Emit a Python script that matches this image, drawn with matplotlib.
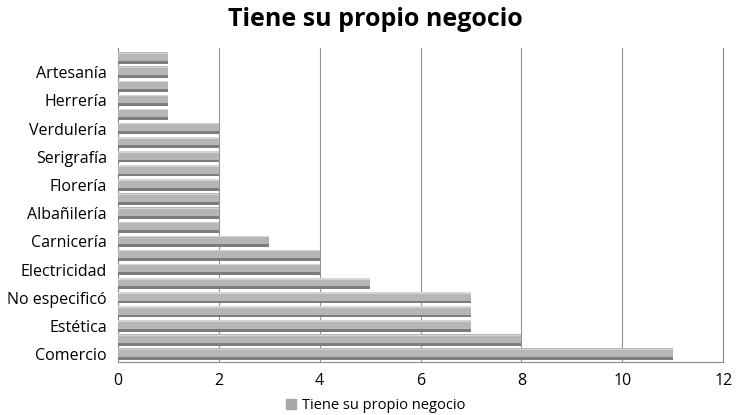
import matplotlib.pyplot as plt
from matplotlib.patches import Patch

# categories from bottom to top; unlabeled rows in the original are left blank
categories = ['Comercio', '', 'Estética', '', 'No especificó', '', 'Electricidad', '',
              'Carnicería', '', 'Albañilería', '', 'Florería', '', 'Serigrafía', '',
              'Verdulería', '', 'Herrería', '', 'Artesanía', '']
values = [11, 8, 7, 7, 7, 5, 4, 4, 3, 2, 2, 2, 2, 2, 2, 2, 2, 1, 1, 1, 1, 1]
series_name = 'Tiene su propio negocio'

plt.rcParams['font.family'] = ['Open Sans', 'DejaVu Sans']

fig = plt.figure(figsize=(7.51, 4.15), dpi=100)
ax = fig.add_axes([0.157, 0.128, 0.806, 0.756])

pos = list(range(len(values)))
# layered bars to mimic the shaded 3D look: dark base, grey body, light top edge
ax.barh(pos, values, height=0.8, color='#7c7c7c', zorder=3)
ax.barh([p + 0.1 for p in pos], values, height=0.6, color='#b6b6b6', zorder=4)
ax.barh([p + 0.34 for p in pos], values, height=0.1, color='#d4d4d4', zorder=5)

ax.set_xlim(0, 12)
ax.set_ylim(-0.55, len(values) - 0.3)
ax.set_xticks(range(0, 13, 2))
ax.set_yticks(pos)
ax.set_yticklabels(categories)
ax.tick_params(axis='both', length=0, labelsize=11.5, colors='black')
ax.tick_params(axis='x', pad=8)
ax.tick_params(axis='y', pad=8)
ax.grid(axis='x', color='#7a7a7a', linewidth=0.8, alpha=0.8, zorder=6)
ax.spines['top'].set_visible(False)
for s in ['left', 'right', 'bottom']:
    ax.spines[s].set_color('#8c8c8c')
    ax.spines[s].set_linewidth(0.8)

fig.text(0.5, 0.953, series_name, ha='center', va='center', fontsize=18, fontweight='bold')
fig.legend(handles=[Patch(color='#a8a8a8', label=series_name)], loc='center',
           bbox_to_anchor=(0.5, 0.022), frameon=False, fontsize=10.5,
           handlelength=0.7, handleheight=0.7, handletextpad=0.4)

fig.savefig('out.png')
